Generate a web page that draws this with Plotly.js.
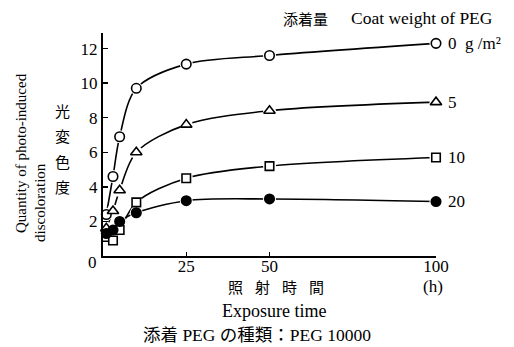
<!DOCTYPE html>
<html>
<head>
<meta charset="utf-8">
<script src="https://cdn.plot.ly/plotly-3.0.1.min.js"></script>
<style>html,body{margin:0;padding:0;background:#fff;}#chart{width:514px;height:347px;}</style>
</head>
<body>
<div id="chart"></div>
<script>
// Data
const exposureHours = [1, 3, 5, 10, 25, 50, 100];
const seriesLabels = ["0  g /m²", "5", "10", "20"];
const peg0 = [2.4, 4.6, 6.9, 9.7, 11.1, 11.6, 12.3];
const peg5 = [1.6, 2.6, 3.8, 6.0, 7.6, 8.4, 8.9];
const peg10 = [1.1, 0.9, 1.5, 3.1, 4.5, 5.2, 5.7];
const peg20 = [1.3, 1.5, 2.0, 2.5, 3.2, 3.3, 3.15];
const yTicks = [2, 4, 6, 8, 10, 12];
const xTicks = [25, 50, 100];

const FONT = "Liberation Serif, Times New Roman, serif";
const CJK = "Noto Sans CJK JP, Noto Sans CJK SC, sans-serif";

const series = [
  {y: peg0, symbol: "circle", fill: "#fff", size: 9.5},
  {y: peg5, symbol: "triangle-up", fill: "#fff", size: 10},
  {y: peg10, symbol: "square", fill: "#fff", size: 8.5},
  {y: peg20, symbol: "circle", fill: "#000", size: 9.5}
];

const traces = [];
// smooth curves
series.forEach(s => traces.push({
  x: exposureHours, y: s.y, mode: "lines", type: "scatter",
  line: {color: "#000", width: 1.6, shape: "spline", smoothing: 0.9},
  hoverinfo: "skip", cliponaxis: false, showlegend: false
}));
// white halos around markers (gap between line and marker)
series.forEach(s => traces.push({
  x: exposureHours, y: s.y, mode: "markers", type: "scatter",
  marker: {symbol: "circle", size: 13, color: "#fff", line: {width: 0}},
  hoverinfo: "skip", cliponaxis: false, showlegend: false
}));
// markers
series.forEach(s => traces.push({
  x: exposureHours, y: s.y, mode: "markers", type: "scatter",
  marker: {symbol: s.symbol, size: s.size, color: s.fill, line: {color: "#000", width: 1.6}},
  cliponaxis: false, showlegend: false
}));

// Plot area in pixels
const L = 103, R = 436, T = 33, B = 256;
const pa = (px, py, text, opts) => Object.assign({
  x: (px - L) / (R - L), y: (B - py) / (B - T), xref: "paper", yref: "paper",
  text: text, showarrow: false, xanchor: "center", yanchor: "middle",
  font: {family: FONT, size: 17, color: "#000"}
}, opts || {});

const annotations = [];
// series labels at right end of each curve
const labelY = [peg0[6], peg5[6], peg10[6], peg20[6]];
seriesLabels.forEach((t, i) => annotations.push({
  x: 100, y: labelY[i], xref: "x", yref: "y", text: t, showarrow: false,
  xanchor: "left", yanchor: "middle", xshift: 10,
  font: {family: FONT, size: 17, color: "#000"}
}));
// legend title
annotations.push(pa(305, 18, "添着量", {font: {family: CJK, size: 15, color: "#000"}}));
annotations.push(pa(349, 18, "Coat weight of PEG", {xanchor: "left", font: {family: FONT, size: 17.5, color: "#000"}}));
// y axis titles
annotations.push(pa(21, 153, "Quantity of photo-induced", {textangle: -90, font: {family: FONT, size: 15, color: "#000"}}));
annotations.push(pa(40, 203, "discoloration", {textangle: -90, font: {family: FONT, size: 15, color: "#000"}}));
["光", "変", "色", "度"].forEach((c, i) => annotations.push(
  pa(62, 110 + i * 25.5, c, {font: {family: CJK, size: 15, color: "#000"}})
));
annotations.push(pa(92, 262, "0"));
// x axis titles
["照", "射", "時", "間"].forEach((c, i) => annotations.push(
  pa(235 + i * 27.3, 286, c, {font: {family: CJK, size: 15, color: "#000"}})
));
annotations.push(pa(433, 286, "(h)"));
annotations.push(pa(274, 311, "Exposure time", {font: {family: FONT, size: 18, color: "#000"}}));
annotations.push(pa(257, 333, "<span style='font-family:" + CJK + "'>添着</span> PEG <span style='font-family:" + CJK + "'>の種類：</span>PEG 10000", {font: {family: FONT, size: 17.5, color: "#000"}}));

const layout = {
  width: 514, height: 347,
  margin: {l: L, r: 514 - R, t: T, b: 347 - B, pad: 0},
  paper_bgcolor: "#fff", plot_bgcolor: "#fff",
  font: {family: FONT, size: 17, color: "#000"},
  showlegend: false,
  xaxis: {
    range: [0, 100], tickvals: xTicks, ticktext: xTicks.map(String),
    ticks: "inside", ticklen: 4, tickwidth: 1.5, tickcolor: "#000",
    ticklabelstandoff: -6,
    showline: true, linecolor: "#000", linewidth: 2, showgrid: false, zeroline: false,
    tickfont: {family: FONT, size: 17, color: "#000"}, fixedrange: true
  },
  yaxis: {
    range: [0, 12.9], tickvals: yTicks, ticktext: yTicks.map(String),
    ticks: "inside", ticklen: 5, tickwidth: 1.5, tickcolor: "#000",
    showline: true, linecolor: "#000", linewidth: 2, showgrid: false, zeroline: false,
    tickfont: {family: FONT, size: 17, color: "#000"}, fixedrange: true
  },
  annotations: annotations
};

Plotly.newPlot("chart", traces, layout, {displayModeBar: false, staticPlot: true});
</script>
</body>
</html>
